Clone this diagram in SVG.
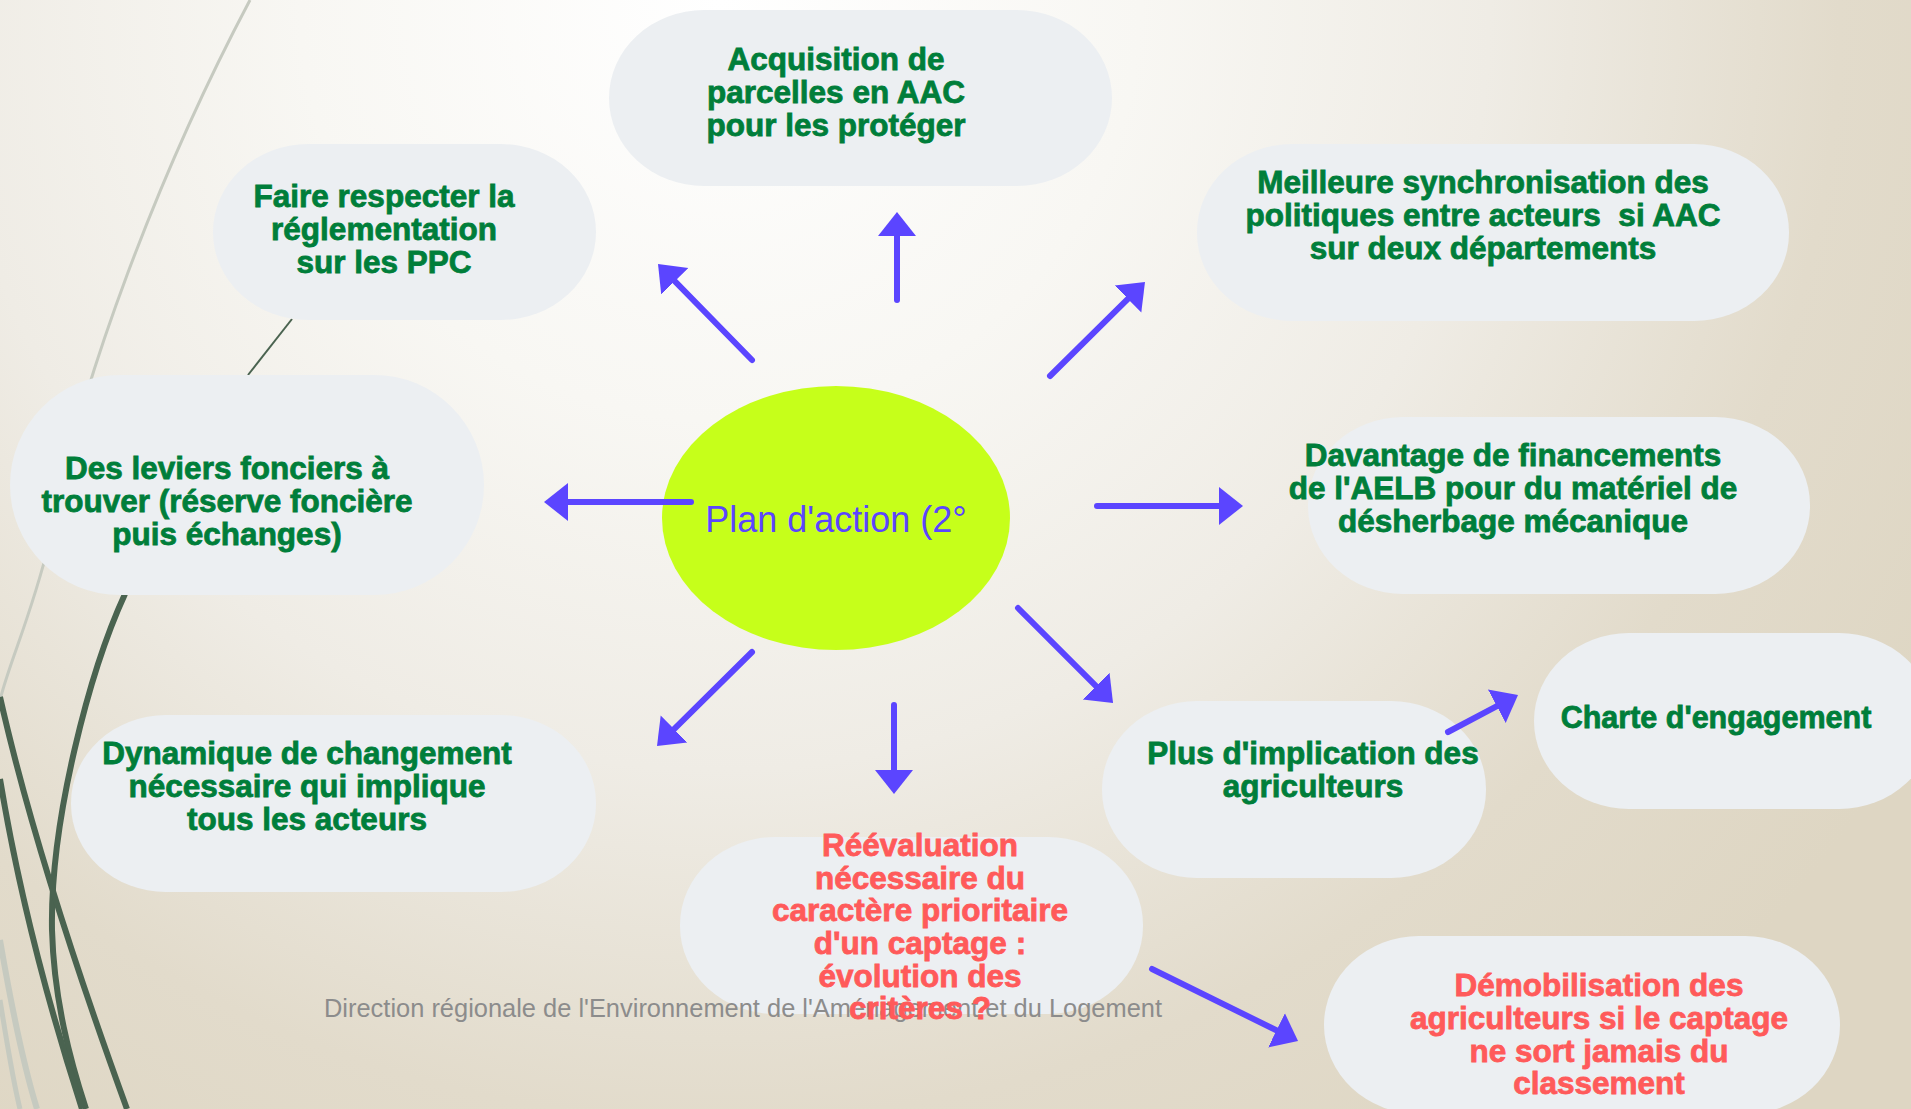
<svg xmlns="http://www.w3.org/2000/svg" width="1911" height="1109" viewBox="0 0 1911 1109">
<defs>
<radialGradient id="bg" gradientUnits="userSpaceOnUse" cx="720" cy="0" r="1400">
<stop offset="0" stop-color="#FFFFFF"/>
<stop offset="0.3" stop-color="#F8F7F3"/>
<stop offset="0.55" stop-color="#EFECE5"/>
<stop offset="0.8" stop-color="#E2DBCB"/>
<stop offset="1" stop-color="#DED6C3"/>
</radialGradient>
<marker id="ah" viewBox="0 0 24 40" markerWidth="24" markerHeight="40" markerUnits="userSpaceOnUse" refX="6" refY="20" orient="auto">
<path d="M0,1 L24,20 L0,39 Z" fill="#5B45FF"/>
</marker>
<style>
.node{fill:#ECEFF2}
.g{font-family:"Liberation Sans",Arial,sans-serif;font-weight:bold;font-size:31.5px;fill:#007E3A;stroke:#007E3A;stroke-width:0.8px;text-anchor:middle}
.r{font-family:"Liberation Sans",Arial,sans-serif;font-weight:bold;font-size:31.5px;fill:#FF5A5A;stroke:#FF5A5A;stroke-width:0.8px;text-anchor:middle}
.conn{stroke:#5B45FF;stroke-width:6;stroke-linecap:round;fill:none;marker-end:url(#ah)}
.dk{fill:none;stroke:#4A6350}
.lt{fill:none;stroke:#C6CAC0}
</style>
</defs>
<rect width="1911" height="1109" fill="url(#bg)"/>
<g id="decor">
<path class="lt" stroke-width="3" d="M250,0 C160,170 80,380 50,540 C30,620 10,660 0,700"/>
<path class="lt" stroke-width="6" d="M0,940 C12,1010 25,1070 37,1109"/>
<path class="lt" stroke-width="5" d="M0,1000 C8,1050 14,1085 20,1109"/>
<path class="dk" stroke-width="2" d="M292,319 L248,375"/>
<path class="dk" stroke-width="6" d="M125,594 C90,670 50,820 52,930 C54,1000 70,1060 86,1109"/>
<path class="dk" stroke-width="6" d="M0,697 C30,830 80,980 127,1109"/>
<path class="dk" stroke-width="6" d="M0,779 C20,900 50,1010 82,1109"/>
</g>
<g id="n-acquisition">
<rect class="node" x="609" y="10" width="503" height="176" rx="95" ry="88"/>
<text class="g"><tspan x="836" y="70">Acquisition de</tspan><tspan x="836" y="103">parcelles en AAC</tspan><tspan x="836" y="136">pour les protéger</tspan></text>
</g>
<g id="n-faire">
<rect class="node" x="213" y="144" width="383" height="176" rx="95" ry="88"/>
<text class="g"><tspan x="384" y="207">Faire respecter la</tspan><tspan x="384" y="240">réglementation</tspan><tspan x="384" y="273">sur les PPC</tspan></text>
</g>
<g id="n-meilleure">
<rect class="node" x="1197" y="144" width="592" height="177" rx="95" ry="88"/>
<text class="g"><tspan x="1483" y="193">Meilleure synchronisation des</tspan><tspan x="1483" y="226" xml:space="preserve">politiques entre acteurs  si AAC</tspan><tspan x="1483" y="259">sur deux départements</tspan></text>
</g>
<g id="n-leviers">
<rect class="node" x="10" y="375" width="474" height="220" rx="110" ry="110"/>
<text class="g"><tspan x="227" y="479">Des leviers fonciers à</tspan><tspan x="227" y="512">trouver (réserve foncière</tspan><tspan x="227" y="545">puis échanges)</tspan></text>
</g>
<g id="n-davantage">
<rect class="node" x="1308" y="417" width="502" height="177" rx="95" ry="88"/>
<text class="g"><tspan x="1513" y="466">Davantage de financements</tspan><tspan x="1513" y="499">de l'AELB pour du matériel de</tspan><tspan x="1513" y="532">désherbage mécanique</tspan></text>
</g>
<g id="n-dynamique">
<rect class="node" x="71" y="715" width="525" height="177" rx="95" ry="88"/>
<text class="g"><tspan x="307" y="764">Dynamique de changement</tspan><tspan x="307" y="797">nécessaire qui implique</tspan><tspan x="307" y="830">tous les acteurs</tspan></text>
</g>
<g id="n-plus">
<rect class="node" x="1102" y="701" width="384" height="177" rx="95" ry="88"/>
<text class="g"><tspan x="1313" y="764">Plus d'implication des</tspan><tspan x="1313" y="797">agriculteurs</tspan></text>
</g>
<g id="n-charte">
<rect class="node" x="1534" y="633" width="400" height="176" rx="95" ry="88"/>
<text class="g" style="font-size:30.5px"><tspan x="1716" y="728">Charte d'engagement</tspan></text>
</g>
<g id="n-demobilisation">
<rect class="node" x="1324" y="936" width="516" height="178" rx="95" ry="89"/>
<text class="r"><tspan x="1599" y="996">Démobilisation des</tspan><tspan x="1599" y="1029">agriculteurs si le captage</tspan><tspan x="1599" y="1062">ne sort jamais du</tspan><tspan x="1599" y="1094">classement</tspan></text>
</g>
<g id="n-reevaluation">
<rect class="node" x="680" y="837" width="463" height="177" rx="95" ry="88"/>
</g>
<text id="footer" x="324" y="1017" textLength="838" lengthAdjust="spacingAndGlyphs" style="font-family:'Liberation Sans',Arial,sans-serif;font-size:25px;fill:#8C8C8C">Direction régionale de l'Environnement de l'Aménagement et du Logement</text>
<g id="n-reevaluation-text">
<text class="r"><tspan x="920" y="856">Réévaluation</tspan><tspan x="920" y="889">nécessaire du</tspan><tspan x="920" y="921">caractère prioritaire</tspan><tspan x="920" y="954">d'un captage :</tspan><tspan x="920" y="987">évolution des</tspan><tspan x="920" y="1019">critères ?</tspan></text>
</g>
<g id="n-center">
<ellipse cx="836" cy="518" rx="174" ry="132" fill="#C6FF1A"/>
<text x="836" y="532" text-anchor="middle" style="font-family:'Liberation Sans',Arial,sans-serif;font-size:36px;fill:#5B45FF">Plan d'action (2°</text>
</g>
<g id="connectors">
<path class="conn" d="M897,300 L897,230"/>
<path class="conn" d="M752,360 L670.6,276.9"/>
<path class="conn" d="M1050,376 L1132.2,294.7"/>
<path class="conn" d="M691,502 L562,502"/>
<path class="conn" d="M1097,506 L1225,506"/>
<path class="conn" d="M752,652 L669.8,733.3"/>
<path class="conn" d="M894,705 L894,776"/>
<path class="conn" d="M1018,608 L1100.3,690.3"/>
<path class="conn" d="M1448,732 L1502.1,703.4"/>
<path class="conn" d="M1152,969 L1281.9,1033"/>
</g>
</svg>
